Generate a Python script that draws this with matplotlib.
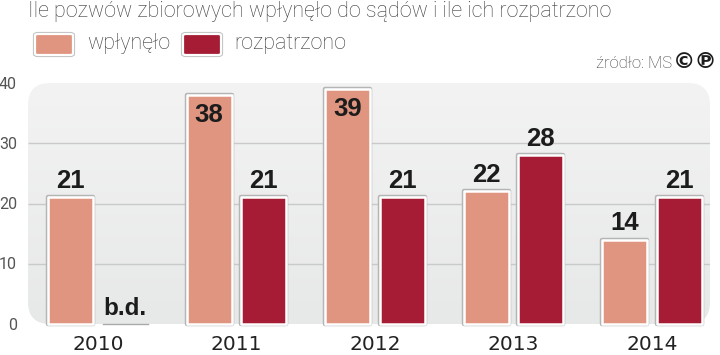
import numpy as np
import matplotlib
matplotlib.use('Agg')
import matplotlib.pyplot as plt
import matplotlib.patheffects as pe
from matplotlib.patches import FancyBboxPatch

years = ['2010', '2011', '2012', '2013', '2014']
wplynelo = [21, 38, 39, 22, 14]
rozpatrzono = [0, 21, 21, 28, 21]
labels_wplynelo = ['21', '38', '39', '22', '14']
labels_rozpatrzono = ['b.d.', '21', '21', '28', '21']
yticks = [0, 10, 20, 30, 40]

c_light = '#df9580'
c_dark = '#a51c34'
c_text = '#3c3c3c'
bold_font = ['Liberation Sans', 'DejaVu Sans']
thin_font = ['Roboto', 'DejaVu Sans']

W, H = 720, 355
fig = plt.figure(figsize=(W/100, H/100), dpi=100, facecolor='white')

# panel 28..710 px wide, 0 at y=324, 40 at y=83
ax = fig.add_axes([28/W, (H-324)/H, (710-28)/W, (324-83)/H])
ax.set_xlim(-0.505, 4.42)
ax.set_ylim(0, 40)
ax.axis('off')

# background gradient with rounded corners
pw = 4.925 / 682
pan = FancyBboxPatch((-0.505+22*pw, 22/6.03), 4.925-44*pw, 40-44/6.03,
                     boxstyle='round,pad=%f,rounding_size=%f' % (22*pw, 22*pw),
                     mutation_aspect=(1/6.03)/pw, fc='none', ec='none')
ax.add_patch(pan)
grad = np.linspace(0, 1, 100).reshape(-1, 1)
im = ax.imshow(grad, extent=[-0.505, 4.42, 0, 40], origin='upper', aspect='auto',
               cmap=matplotlib.colors.LinearSegmentedColormap.from_list('p', ['#f3f3f3', '#e7e8e8']),
               zorder=0)
im.set_clip_path(pan)

ax.hlines([10, 20, 30], -0.505, 4.42, colors='#c8cacb', lw=1.0, zorder=1)

x = np.arange(len(years))
off = 0.197
bw = 0.325

b1 = ax.bar(x - off, wplynelo, bw, color=c_light, edgecolor='white', linewidth=1.8, zorder=3)
b2 = ax.bar(x[1:] + off, rozpatrzono[1:], bw, color=c_dark, edgecolor='white', linewidth=1.8, zorder=3)
for b in list(b1) + list(b2):
    b.set_joinstyle('round')
    b.set_path_effects([pe.Stroke(linewidth=3.2, foreground='#b4b6b6'), pe.Normal()])
    b.set_clip_on(False)

# brak danych 2010
ax.plot([off - bw/2, off + bw/2], [0, 0], color='#a9abab', lw=1.0, zorder=2, clip_on=False)

for i in range(len(years)):
    yv = wplynelo[i]
    if yv > 30:
        ax.text(x[i]-off, yv-1.3, labels_wplynelo[i], ha='center', va='top', fontsize=18.5,
                fontweight='bold', family=bold_font, color='#1c1c1c', zorder=4)
    else:
        ax.text(x[i]-off, yv+0.7, labels_wplynelo[i], ha='center', va='bottom', fontsize=18.5,
                fontweight='bold', family=bold_font, color='#1c1c1c', zorder=4)
    ax.text(x[i]+off, rozpatrzono[i]+0.7, labels_rozpatrzono[i], ha='center', va='bottom', fontsize=17.5 if i == 0 else 18.5,
            fontweight='bold', family=bold_font, color='#1c1c1c', zorder=4)
    ax.text(x[i], -1.9, years[i], ha='center', va='top', fontsize=14.5, color='#222222',
            family='DejaVu Sans', clip_on=False)

for t in yticks:
    ax.text(-0.505 - 11/138.5, t - 0.2, str(t), ha='right', va='center', fontsize=11.5,
            color='#555555', family=thin_font, clip_on=False)

def ftext(px, py, s, **kw):
    fig.text(px/W, 1-py/H, s, **kw)

ftext(28, 11, 'Ile pozwów zbiorowych wpłynęło do sądów i ile ich rozpatrzono', fontsize=15.5,
      color=c_text, family=thin_font, fontweight='light', va='center', ha='left')
ftext(87, 44, 'wpłynęło', fontsize=15.5, color=c_text, family=thin_font, fontweight='light', va='center')
ftext(234, 44, 'rozpatrzono', fontsize=15.5, color=c_text, family=thin_font, fontweight='light', va='center')
ftext(672, 63, 'źródło: MS', fontsize=12, color=c_text, family=thin_font, fontweight='light', va='center', ha='right')
ftext(717, 62, '©℗', fontsize=16, color='#1c1c1c', family='DejaVu Sans', fontweight='bold', va='center', ha='right')

# legend boxes
for px, col in [(35, c_light), (183, c_dark)]:
    fig.patches.append(FancyBboxPatch((px/W, 1-55/H), 38/W, 21/H,
                                      boxstyle='round,pad=0,rounding_size=0.004',
                                      transform=fig.transFigure, fc=col, ec='white', lw=1.6,
                                      path_effects=[pe.Stroke(linewidth=3.0, foreground='#c0c0c0'), pe.Normal()]))

fig.savefig('out.png', dpi=100)
